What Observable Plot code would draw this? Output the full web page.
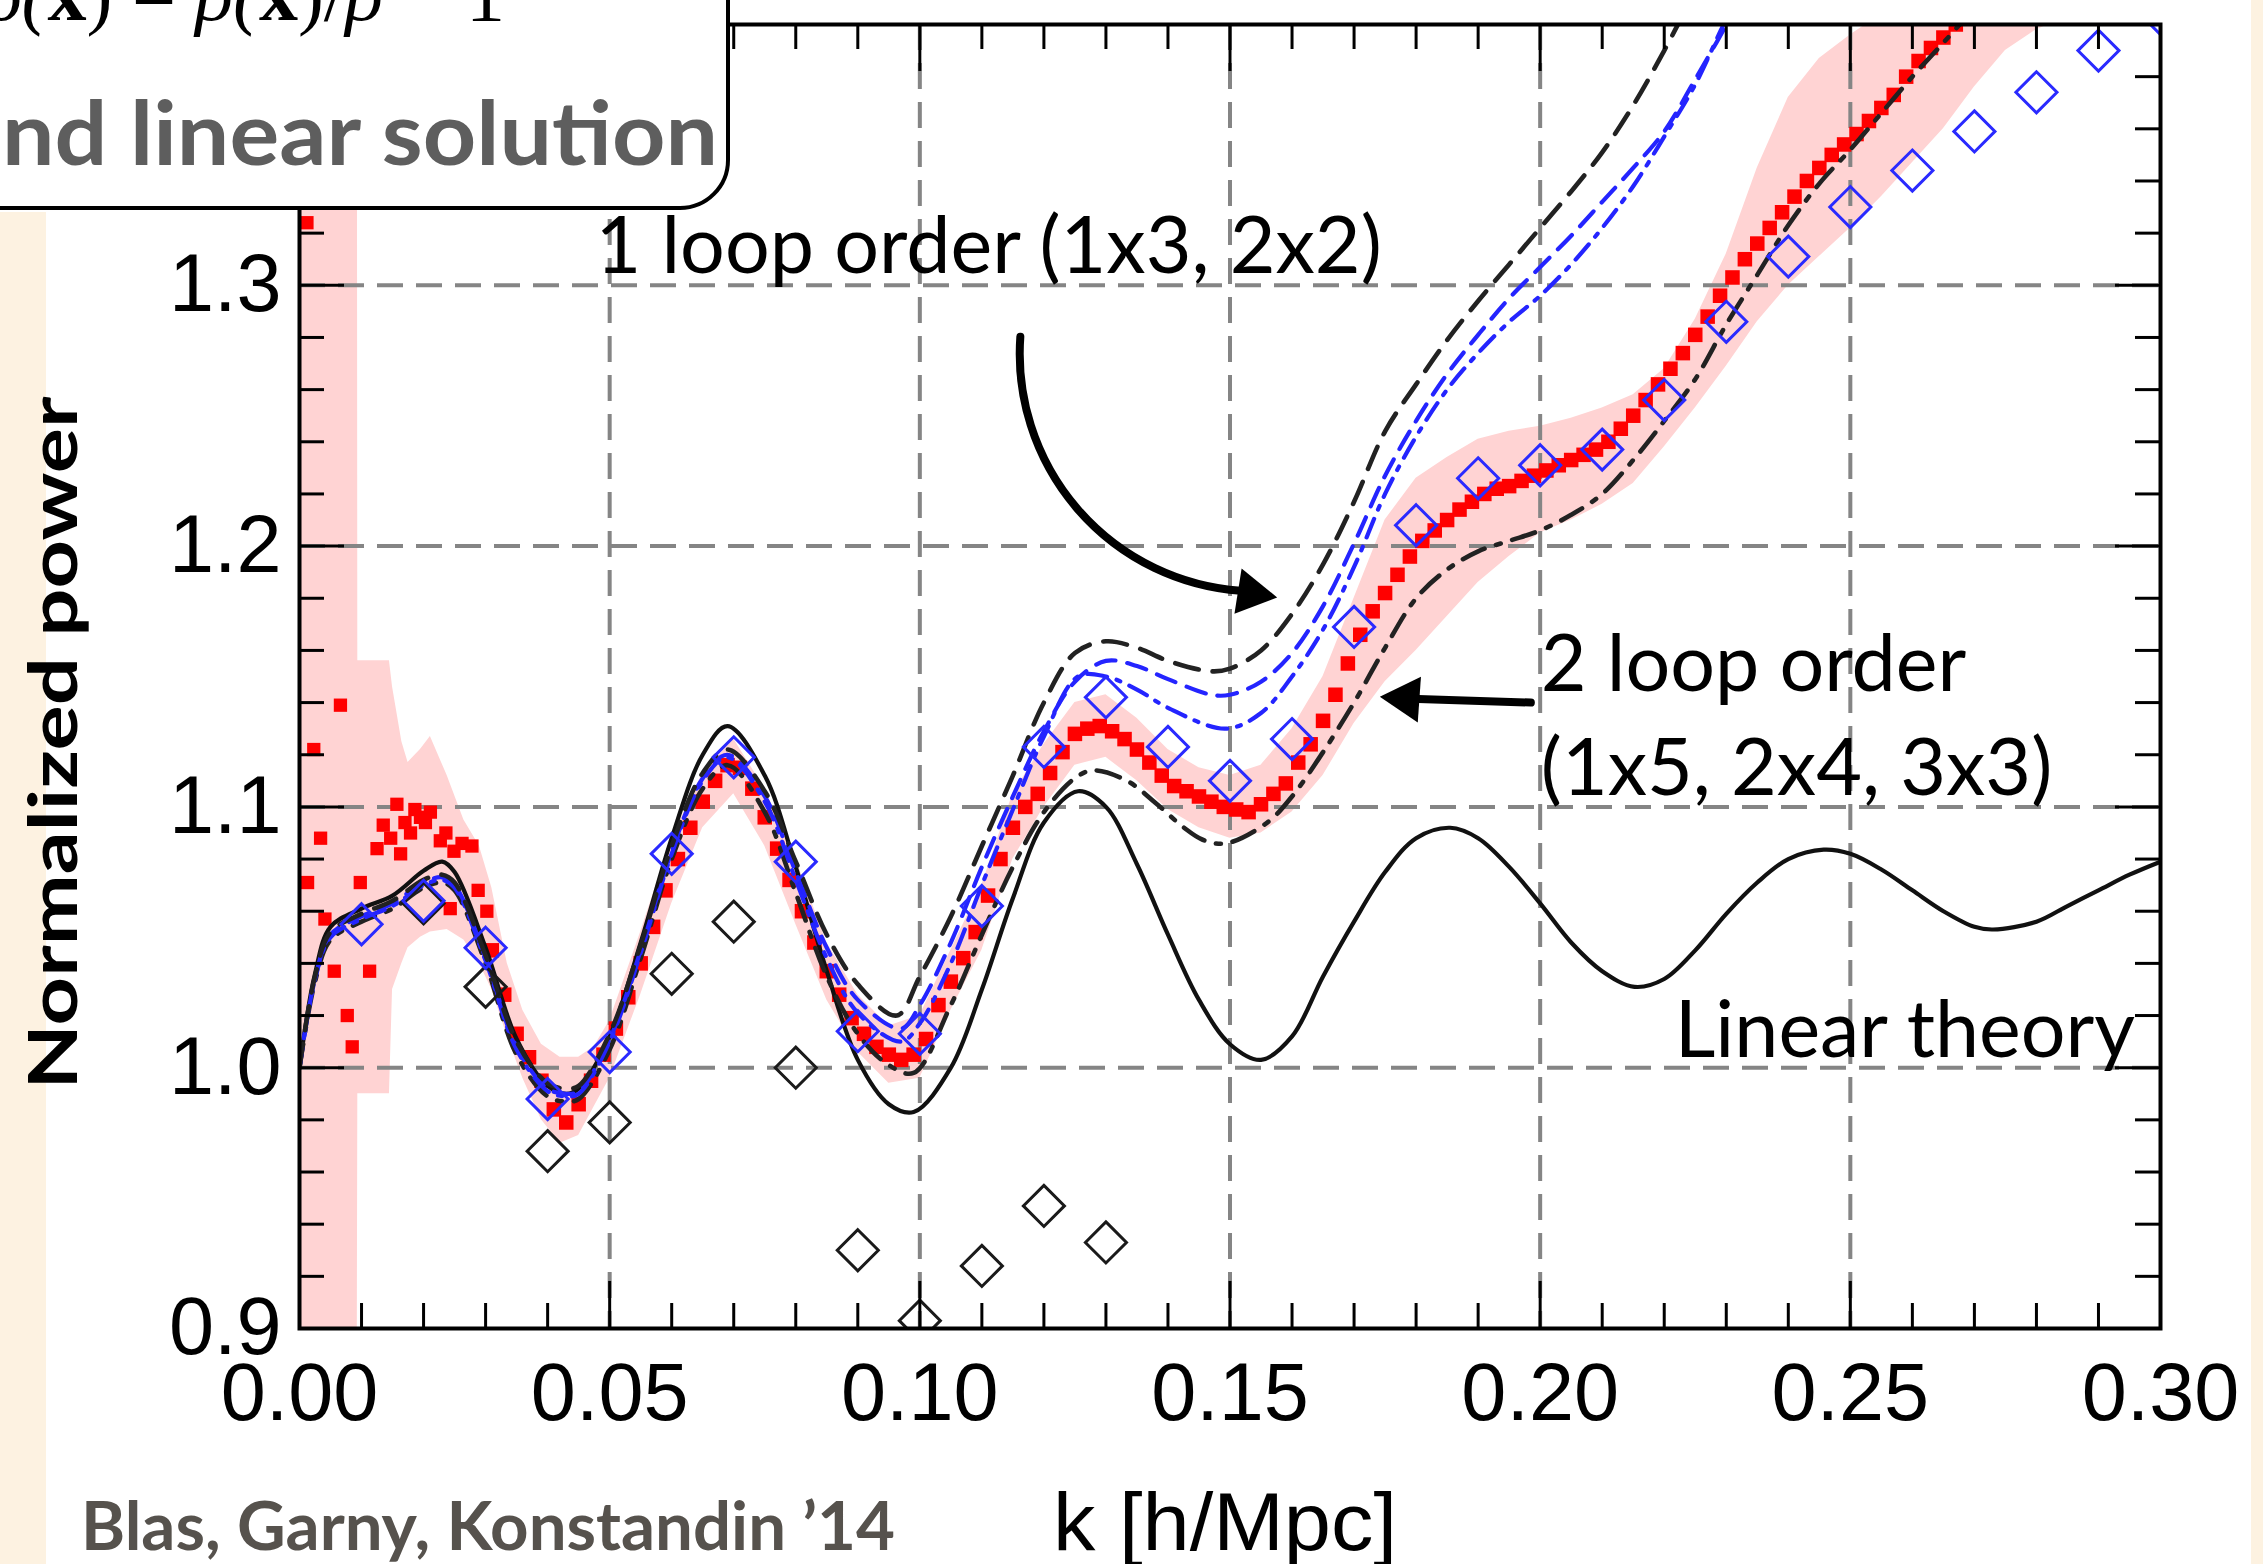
<!DOCTYPE html>
<html><head><meta charset="utf-8">
<script src="https://cdn.jsdelivr.net/npm/d3@7"></script>
<script src="https://cdn.jsdelivr.net/npm/@observablehq/plot@0.6"></script>
<style>
html,body{margin:0;padding:0;background:#fff;overflow:hidden}
#wrap{position:relative;width:2263px;height:1564px;background:#fff}
#wrap > svg{position:absolute;left:0;top:0}
</style></head><body><div id="wrap"></div>
<script>
// ---------- DATA ----------
const xTickLabels = [0.00, 0.05, 0.10, 0.15, 0.20, 0.25, 0.30];
const yTickLabels = [0.9, 1.0, 1.1, 1.2, 1.3];
const xGrid = [0.05, 0.10, 0.15, 0.20, 0.25];
const yGrid = [1.0, 1.1, 1.2, 1.3];
const xMinor = [0.01,0.02,0.03,0.04,0.06,0.07,0.08,0.09,0.11,0.12,0.13,0.14,0.16,0.17,0.18,0.19,0.21,0.22,0.23,0.24,0.26,0.27,0.28,0.29];
const yMinor = [0.92,0.94,0.96,0.98,1.02,1.04,1.06,1.08,1.12,1.14,1.16,1.18,1.22,1.24,1.26,1.28,1.32,1.34,1.36,1.38];

// Linear theory [k, P/Pnw]
const linear = [[0,1.000],[0.0025,1.036],[0.005,1.054],[0.01,1.061],[0.015,1.066],[0.02,1.0755],[0.023,1.079],[0.025,1.075],[0.03,1.046],[0.035,1.011],[0.04,0.993],[0.043,0.990],[0.045,0.992],[0.05,1.012],[0.055,1.048],[0.06,1.088],[0.065,1.120],[0.069,1.131],[0.075,1.112],[0.08,1.077],[0.085,1.037],[0.09,1.003],[0.095,0.986],[0.099,0.983],[0.105,1.000],[0.11,1.030],[0.115,1.065],[0.12,1.094],[0.1255,1.106],[0.13,1.100],[0.135,1.078],[0.14,1.051],[0.145,1.026],[0.15,1.009],[0.155,1.003],[0.16,1.012],[0.165,1.035],[0.17,1.056],[0.175,1.075],[0.18,1.088],[0.1855,1.092],[0.19,1.088],[0.195,1.077],[0.20,1.063],[0.205,1.048],[0.21,1.037],[0.2152,1.031],[0.22,1.034],[0.225,1.045],[0.23,1.059],[0.235,1.071],[0.24,1.080],[0.2457,1.0836],[0.25,1.082],[0.255,1.076],[0.26,1.068],[0.265,1.060],[0.27,1.054],[0.273,1.053],[0.28,1.056],[0.285,1.062],[0.29,1.068],[0.295,1.074],[0.30,1.079]];

// 1-loop, black dashed
const oneLoopBlack = [[0,1.000],[0.0025,1.035],[0.005,1.052],[0.01,1.059],[0.015,1.064],[0.02,1.072],[0.023,1.074],[0.025,1.071],[0.03,1.043],[0.035,1.010],[0.04,0.994],[0.043,0.992],[0.045,0.993],[0.05,1.013],[0.055,1.047],[0.06,1.085],[0.065,1.113],[0.069,1.122],[0.075,1.106],[0.08,1.079],[0.085,1.051],[0.09,1.032],[0.0963,1.020],[0.10,1.035],[0.105,1.058],[0.11,1.085],[0.115,1.112],[0.12,1.140],[0.125,1.159],[0.13,1.1635],[0.135,1.161],[0.14,1.156],[0.147,1.152],[0.15,1.153],[0.155,1.160],[0.16,1.174],[0.165,1.193],[0.17,1.217],[0.175,1.244],[0.18,1.262],[0.185,1.279],[0.19,1.294],[0.195,1.308],[0.20,1.322],[0.205,1.336],[0.21,1.351],[0.215,1.369],[0.22,1.390],[0.225,1.413]];

// 1-loop, blue dashed
const oneLoopBlueDash = [[0,1.000],[0.0025,1.034],[0.005,1.051],[0.01,1.058],[0.015,1.063],[0.02,1.071],[0.023,1.073],[0.025,1.070],[0.03,1.042],[0.035,1.008],[0.04,0.992],[0.043,0.990],[0.045,0.991],[0.05,1.011],[0.055,1.045],[0.06,1.083],[0.065,1.111],[0.069,1.120],[0.075,1.104],[0.08,1.075],[0.085,1.046],[0.09,1.026],[0.097,1.015],[0.10,1.024],[0.105,1.048],[0.11,1.077],[0.115,1.104],[0.12,1.129],[0.125,1.148],[0.13,1.156],[0.135,1.154],[0.14,1.149],[0.147,1.143],[0.15,1.143],[0.155,1.148],[0.16,1.159],[0.165,1.177],[0.17,1.201],[0.175,1.227],[0.18,1.248],[0.185,1.266],[0.19,1.281],[0.195,1.295],[0.20,1.307],[0.205,1.319],[0.21,1.332],[0.215,1.345],[0.22,1.359],[0.225,1.379],[0.23,1.400],[0.232,1.41]];

// 1-loop, blue dash-dot
const oneLoopBlueDot = [[0,1.000],[0.0025,1.034],[0.005,1.050],[0.01,1.057],[0.015,1.062],[0.02,1.070],[0.023,1.072],[0.025,1.069],[0.03,1.041],[0.035,1.007],[0.04,0.991],[0.043,0.989],[0.045,0.990],[0.05,1.010],[0.055,1.044],[0.06,1.082],[0.065,1.110],[0.069,1.119],[0.075,1.102],[0.08,1.072],[0.085,1.042],[0.09,1.021],[0.097,1.010],[0.10,1.017],[0.105,1.040],[0.11,1.070],[0.115,1.099],[0.12,1.127],[0.1255,1.150],[0.13,1.150],[0.135,1.145],[0.14,1.138],[0.1493,1.130],[0.155,1.136],[0.16,1.150],[0.165,1.168],[0.17,1.192],[0.175,1.220],[0.18,1.242],[0.185,1.260],[0.19,1.274],[0.195,1.286],[0.20,1.296],[0.205,1.308],[0.21,1.322],[0.215,1.338],[0.22,1.357],[0.225,1.377],[0.23,1.402],[0.232,1.41]];

// 2-loop, black dash-dot
const twoLoop = [[0,1.000],[0.0025,1.033],[0.005,1.049],[0.01,1.056],[0.015,1.061],[0.02,1.069],[0.023,1.071],[0.025,1.068],[0.03,1.040],[0.035,1.005],[0.04,0.989],[0.043,0.987],[0.045,0.988],[0.05,1.007],[0.055,1.042],[0.06,1.080],[0.065,1.107],[0.069,1.116],[0.075,1.098],[0.08,1.067],[0.085,1.035],[0.09,1.013],[0.095,1.001],[0.099,0.998],[0.105,1.024],[0.11,1.051],[0.115,1.077],[0.12,1.098],[0.125,1.111],[0.128,1.114],[0.1334,1.110],[0.138,1.1015],[0.1426,1.092],[0.1456,1.0874],[0.1493,1.086],[0.156,1.094],[0.16,1.104],[0.165,1.121],[0.17,1.140],[0.175,1.161],[0.18,1.180],[0.185,1.191],[0.19,1.198],[0.195,1.202],[0.20,1.206],[0.205,1.212],[0.21,1.220],[0.215,1.233],[0.22,1.248],[0.225,1.264],[0.23,1.285],[0.235,1.304],[0.24,1.323],[0.245,1.339],[0.25,1.352],[0.255,1.366],[0.26,1.380],[0.265,1.393],[0.27,1.406],[0.272,1.41]];

// N-body data (red), scattered low-k part
const simLowK = [[0.0012,1.324],[0.0023,1.122],[0.0034,1.088],[0.0013,1.071],[0.0041,1.057],[0.0066,1.139],[0.0056,1.037],[0.0077,1.020],[0.0085,1.008],[0.0098,1.071],[0.0113,1.037],[0.0125,1.084],[0.0135,1.093],[0.0147,1.088],[0.0157,1.101],[0.0163,1.082],[0.0170,1.094],[0.0179,1.090],[0.0186,1.099],[0.0195,1.096],[0.0203,1.094],[0.0211,1.098],[0.0227,1.087],[0.0236,1.090],[0.0249,1.083],[0.0243,1.061],[0.0262,1.086],[0.0278,1.085],[0.0288,1.068],[0.0302,1.060]];

// N-body data (red), dense part
const sim = [[0.031,1.045],[0.033,1.028],[0.035,1.013],[0.037,1.004],[0.039,0.995],[0.041,0.984],[0.043,0.979],[0.045,0.986],[0.047,0.995],[0.049,1.005],[0.051,1.015],[0.053,1.027],[0.055,1.040],[0.057,1.054],[0.059,1.068],[0.061,1.080],[0.063,1.092],[0.065,1.102],[0.067,1.110],[0.069,1.116],[0.071,1.115],[0.073,1.107],[0.075,1.096],[0.077,1.084],[0.079,1.072],[0.081,1.060],[0.083,1.048],[0.085,1.037],[0.087,1.028],[0.089,1.019],[0.091,1.013],[0.093,1.008],[0.095,1.005],[0.097,1.003],[0.099,1.005],[0.101,1.011],[0.103,1.024],[0.105,1.033],[0.107,1.042],[0.109,1.052],[0.111,1.066],[0.113,1.080],[0.115,1.092],[0.117,1.100],[0.119,1.105],[0.121,1.113],[0.123,1.121],[0.125,1.128],[0.127,1.130],[0.129,1.131],[0.131,1.129],[0.133,1.126],[0.135,1.122],[0.137,1.117],[0.139,1.112],[0.141,1.108],[0.143,1.106],[0.145,1.104],[0.147,1.102],[0.149,1.100],[0.151,1.099],[0.153,1.098],[0.155,1.101],[0.157,1.105],[0.159,1.109],[0.161,1.117],[0.163,1.124],[0.165,1.133],[0.167,1.143],[0.169,1.155],[0.171,1.166],[0.173,1.175],[0.175,1.182],[0.177,1.189],[0.179,1.196],[0.181,1.202],[0.183,1.206],[0.185,1.210],[0.187,1.214],[0.189,1.217],[0.191,1.220],[0.193,1.222],[0.195,1.223],[0.197,1.225],[0.199,1.227],[0.201,1.229],[0.203,1.231],[0.205,1.233],[0.207,1.235],[0.209,1.237],[0.211,1.240],[0.213,1.245],[0.215,1.250],[0.217,1.256],[0.219,1.262],[0.221,1.268],[0.223,1.274],[0.225,1.281],[0.227,1.288],[0.229,1.296],[0.231,1.303],[0.233,1.310],[0.235,1.316],[0.237,1.322],[0.239,1.328],[0.241,1.334],[0.243,1.340],[0.245,1.345],[0.247,1.350],[0.249,1.354],[0.251,1.358],[0.253,1.363],[0.255,1.368],[0.257,1.373],[0.259,1.380],[0.261,1.386],[0.263,1.391],[0.265,1.395],[0.267,1.400],[0.269,1.406],[0.271,1.412]];

// error band of the data [k, low, high]
const simBand = [[0.0003,0.88,1.50],[0.0093,0.88,1.50],[0.0094,0.990,1.156],[0.0145,0.990,1.156],[0.0150,1.030,1.146],[0.0165,1.040,1.125],[0.0175,1.046,1.117],[0.0195,1.050,1.122],[0.0211,1.052,1.127],[0.0238,1.053,1.112],[0.0265,1.049,1.095],[0.0290,1.040,1.085],[0.0310,1.030,1.069],[0.0335,1.012,1.040],[0.0360,0.996,1.022],[0.0390,0.980,1.009],[0.0420,0.971,1.004],[0.0450,0.974,1.004],[0.0475,0.985,1.008],[0.050,0.996,1.018],[0.055,1.028,1.052],[0.060,1.063,1.088],[0.065,1.092,1.113],[0.070,1.105,1.126],[0.075,1.085,1.107],[0.080,1.055,1.080],[0.085,1.026,1.048],[0.090,1.006,1.028],[0.095,0.994,1.016],[0.100,0.996,1.020],[0.105,1.022,1.045],[0.110,1.045,1.070],[0.115,1.080,1.105],[0.120,1.100,1.124],[0.125,1.116,1.140],[0.130,1.119,1.143],[0.135,1.110,1.134],[0.140,1.099,1.122],[0.145,1.092,1.115],[0.150,1.088,1.112],[0.155,1.090,1.116],[0.160,1.098,1.130],[0.165,1.112,1.150],[0.170,1.132,1.180],[0.175,1.148,1.210],[0.180,1.160,1.226],[0.185,1.173,1.234],[0.190,1.186,1.241],[0.195,1.196,1.244],[0.200,1.205,1.246],[0.205,1.210,1.249],[0.210,1.216,1.253],[0.215,1.224,1.258],[0.220,1.238,1.268],[0.225,1.253,1.287],[0.230,1.269,1.312],[0.235,1.286,1.345],[0.240,1.300,1.372],[0.245,1.311,1.387],[0.250,1.322,1.396],[0.255,1.334,1.404],[0.260,1.347,1.412],[0.265,1.360,1.420],[0.270,1.376,1.430],[0.275,1.390,1.440],[0.280,1.398,1.450],[0.285,1.403,1.460],[0.290,1.410,1.470]];

// blue open diamonds
const blueDiamonds = [[0.01,1.055],[0.02,1.064],[0.03,1.046],[0.04,0.988],[0.05,1.006],[0.06,1.082],[0.07,1.119],[0.08,1.079],[0.09,1.014],[0.10,1.013],[0.11,1.062],[0.12,1.123],[0.13,1.142],[0.14,1.123],[0.15,1.110],[0.16,1.126],[0.17,1.169],[0.18,1.208],[0.19,1.226],[0.20,1.231],[0.21,1.237],[0.22,1.256],[0.23,1.286],[0.24,1.311],[0.25,1.330],[0.26,1.344],[0.27,1.359],[0.28,1.374],[0.29,1.390],[0.30,1.404]];

// black open diamonds
const blackDiamonds = [[0.02,1.063],[0.03,1.031],[0.04,0.968],[0.05,0.979],[0.06,1.036],[0.07,1.056],[0.08,1.000],[0.09,0.930],[0.10,0.903],[0.11,0.924],[0.12,0.947],[0.13,0.933]];

// annotations: [text, k, value]
const notes = [["1 loop order (1x3, 2x2)",0.0477,1.3146],["2 loop order",0.2001,1.1541],["(1x5, 2x4, 3x3)",0.2001,1.1143],["Linear theory",0.2217,1.0138]];
const arrowCurved = [{k1:0.1162,v1:1.2803,k2:0.1517,v2:1.1829}];
const arrowStraight = [{k1:0.1985,v1:1.1400,k2:0.1791,v2:1.1415}];
const headCurved = [[0.1534,1.1819]];
const headStraight = [[0.1784,1.1415]];

// ---------- CHART ----------
const W = 2263, H = 1564, mT = 24, mR = 103, mB = 236, mL = 299;
const iW = W - mL - mR, iH = H - mT - mB;
const K = d => d[0], V = d => d[1];

const chart = Plot.plot({
  width: W, height: H,
  marginTop: mT, marginRight: mR, marginBottom: mB, marginLeft: mL,
  style: {fontFamily: "Liberation Sans", background: "transparent", overflow: "visible"},
  x: {domain: [0, 0.30]},
  y: {domain: [0.9, 1.4]},
  marks: [
    Plot.areaY(simBand, {x: K, y1: d => d[1], y2: d => d[2], fill: "#ffd3d3", clip: true}),
    Plot.ruleX(xGrid, {x: d => d, stroke: "#858585", strokeWidth: 4, strokeDasharray: "26,13"}),
    Plot.ruleY(yGrid, {y: d => d, stroke: "#858585", strokeWidth: 4, strokeDasharray: "26,13"}),
    Plot.dot(simLowK, {x: K, y: V, symbol: "square", r: 7.5, fill: "#ff0000", clip: true}),
    Plot.dot(sim, {x: K, y: V, symbol: "square", r: 8.2, fill: "#ff0000", clip: true}),
    Plot.line(linear, {x: K, y: V, stroke: "#111", strokeWidth: 4.2, curve: "catmull-rom", clip: true}),
    Plot.line(twoLoop, {x: K, y: V, stroke: "#222", strokeWidth: 4.6, strokeDasharray: "24,12,5,12", curve: "catmull-rom", clip: true}),
    Plot.line(oneLoopBlueDot, {x: K, y: V, stroke: "#2424ff", strokeWidth: 4.2, strokeDasharray: "20,10,4,10", curve: "catmull-rom", clip: true}),
    Plot.line(oneLoopBlueDash, {x: K, y: V, stroke: "#2424ff", strokeWidth: 4.2, strokeDasharray: "20,12", curve: "catmull-rom", clip: true}),
    Plot.line(oneLoopBlack, {x: K, y: V, stroke: "#222", strokeWidth: 4.6, strokeDasharray: "24,14", curve: "catmull-rom", clip: true}),
    Plot.dot(blackDiamonds, {x: K, y: V, symbol: "diamond2", r: 18.5, stroke: "#1a1a1a", strokeWidth: 3, fill: "none", clip: true}),
    Plot.dot(blueDiamonds, {x: K, y: V, symbol: "diamond2", r: 18.5, stroke: "#2a2aff", strokeWidth: 3, fill: "none", clip: true}),
    // ticks (inward)
    Plot.ruleX(xMinor, {x: d => d, insetTop: iH - 25, stroke: "#000", strokeWidth: 3}),
    Plot.ruleX(xMinor, {x: d => d, insetBottom: iH - 25, stroke: "#000", strokeWidth: 3}),
    Plot.ruleX(xGrid, {x: d => d, insetTop: iH - 47, stroke: "#000", strokeWidth: 3}),
    Plot.ruleX(xGrid, {x: d => d, insetBottom: iH - 47, stroke: "#000", strokeWidth: 3}),
    Plot.ruleY(yMinor, {y: d => d, insetRight: iW - 25, stroke: "#000", strokeWidth: 3}),
    Plot.ruleY(yMinor, {y: d => d, insetLeft: iW - 25, stroke: "#000", strokeWidth: 3}),
    Plot.ruleY(yGrid, {y: d => d, insetRight: iW - 45, stroke: "#000", strokeWidth: 3}),
    Plot.ruleY(yGrid, {y: d => d, insetLeft: iW - 45, stroke: "#000", strokeWidth: 3}),
    Plot.frame({stroke: "#000", strokeWidth: 4}),
    Plot.axisX(xTickLabels, {anchor: "bottom", tickSize: 0, tickPadding: 34, tickFormat: d3.format(".2f"), fontSize: 81, fill: "#000", label: null}),
    Plot.axisY(yTickLabels, {anchor: "left", tickSize: 0, tickPadding: 18, tickFormat: d3.format(".1f"), fontSize: 81, fill: "#000", label: null}),
    // annotations
    Plot.text(notes, {x: d => d[1], y: d => d[2], text: d => d[0], textAnchor: "start", lineAnchor: "middle", fontSize: 79, fontFamily: "Lato", fill: "#000"}),
    Plot.arrow(arrowCurved, {x1: "k1", y1: "v1", x2: "k2", y2: "v2", bend: -45, headLength: 0, stroke: "#000", strokeWidth: 8}),
    Plot.arrow(arrowStraight, {x1: "k1", y1: "v1", x2: "k2", y2: "v2", headLength: 0, stroke: "#000", strokeWidth: 8}),
    Plot.dot(headCurved, {x: K, y: V, symbol: "triangle", r: 17, fill: "#000", rotate: 99}),
    Plot.dot(headStraight, {x: K, y: V, symbol: "triangle", r: 17, fill: "#000", rotate: 274})
  ]
});
const wrap = document.getElementById("wrap");
wrap.append(chart);

// ---------- SLIDE DECORATION ----------
const ov = d3.select(wrap).append("svg").attr("width", W).attr("height", H);
ov.append("rect").attr("x", 0).attr("y", 212).attr("width", 46).attr("height", H - 212).attr("fill", "#fdf2e1");
ov.append("rect").attr("x", 2251).attr("y", 0).attr("width", 12).attr("height", H).attr("fill", "#fdf2e1");
ov.append("path").attr("d", "M-20,-20H728V160A48,48 0 0 1 680,208H-20Z").attr("fill", "#fff").attr("stroke", "#000").attr("stroke-width", 4);
const m = ov.append("text").attr("x", 505).attr("y", 20).attr("text-anchor", "end")
  .attr("font-family", "Liberation Serif").attr("font-size", 78).attr("fill", "#000");
m.append("tspan").attr("font-style", "italic").text("δ(");
m.append("tspan").attr("font-weight", "bold").text("x");
m.append("tspan").text(") = ");
m.append("tspan").attr("font-style", "italic").text("ρ(");
m.append("tspan").attr("font-weight", "bold").text("x");
m.append("tspan").text(")/");
m.append("tspan").attr("font-style", "italic").text("ρ\u0304");
m.append("tspan").text(" − 1");
ov.append("text").attr("x", 2).attr("y", 165).attr("font-family", "Lato").attr("font-weight", 700)
  .attr("font-size", 88).attr("fill", "#5e5e5e").attr("textLength", 716).attr("lengthAdjust", "spacingAndGlyphs")
  .text("nd linear solution");
ov.append("text").attr("transform", "translate(53,743) rotate(-90)").attr("text-anchor", "middle").attr("dy", "0.36em")
  .attr("font-family", "Lato").attr("font-weight", 700).attr("font-size", 66).attr("fill", "#000")
  .attr("textLength", 693).attr("lengthAdjust", "spacingAndGlyphs").text("Normalized power");
ov.append("text").attr("x", 81).attr("y", 1550).attr("font-family", "Lato").attr("font-weight", 700)
  .attr("font-size", 66).attr("fill", "#56524d").attr("textLength", 814).attr("lengthAdjust", "spacingAndGlyphs")
  .text("Blas, Garny, Konstandin ’14");
ov.append("text").attr("x", 1053).attr("y", 1550).attr("font-family", "Liberation Sans")
  .attr("font-size", 82).attr("fill", "#000").attr("textLength", 344).attr("lengthAdjust", "spacingAndGlyphs")
  .text("k [h/Mpc]");
</script></body></html>
